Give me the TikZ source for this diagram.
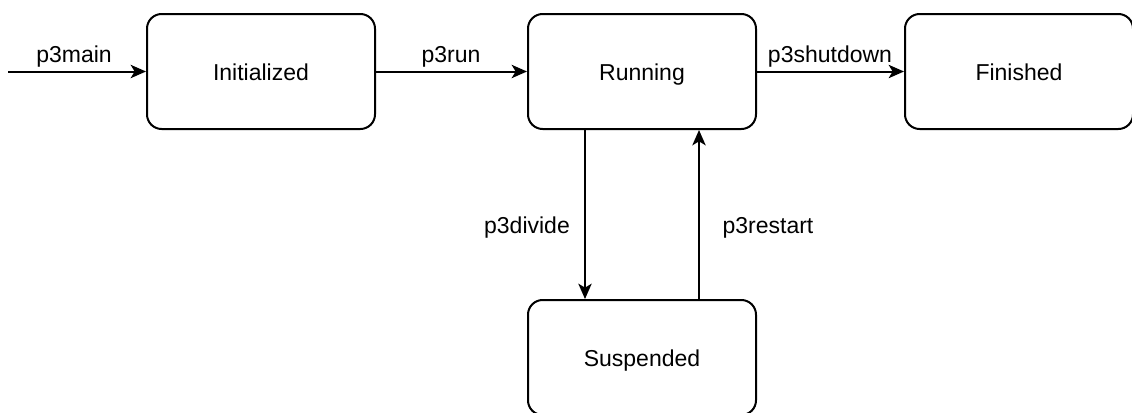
\documentclass[tikz,border=0pt]{standalone}
\usepackage{fontspec}
\setmainfont{Liberation Sans}
\usetikzlibrary{arrows.meta}
\begin{document}
\begin{tikzpicture}[x=0.75pt,y=-0.75pt,
  font=\fontsize{17.25}{20}\selectfont,
  state/.style={draw, line width=1.5pt, rounded corners=11pt,
    minimum width=171pt, minimum height=86.25pt, inner sep=0pt,
    text height=16pt, text depth=1.8pt},
  trans/.style={line width=1.5pt, -{Stealth[length=11.5pt,width=10pt,inset=3pt]}},
  lbl/.style={inner sep=0pt, anchor=base}]
  \useasboundingbox (0,0) rectangle (1132,412);
  \clip (0,0) rectangle (1132,412);

  % states
  \node[state] (init) at (261,71.5) {Initialized};
  \node[state] (run)  at (642,71.5) {Running};
  \node[state] (fin)  at (1019,71.5) {Finished};
  \node[state] (susp) at (642,357.5) {Suspended};

  % entry point
  \coordinate (entry) at (8,71.5);

  % transitions
  \draw[trans] (entry) -- (init);
  \draw[trans] (init) -- (run);
  \draw[trans] (run) -- (fin);
  \draw[trans] ([xshift=-42.75pt]run.south) -- ([xshift=-42.75pt]susp.north);
  \draw[trans] ([xshift=42.75pt]susp.north) -- ([xshift=42.75pt]run.south);

  % transition labels
  \node[lbl] (lmain) at (74,62) {p3main};
  \node[lbl] (lrun) at (451,62) {p3run};
  \node[lbl] (lshut) at (830,62) {p3shutdown};
  \node[lbl] (ldiv) at (527,233) {p3divide};
  \node[lbl] (lrest) at (768,233) {p3restart};
\end{tikzpicture}
\end{document}
